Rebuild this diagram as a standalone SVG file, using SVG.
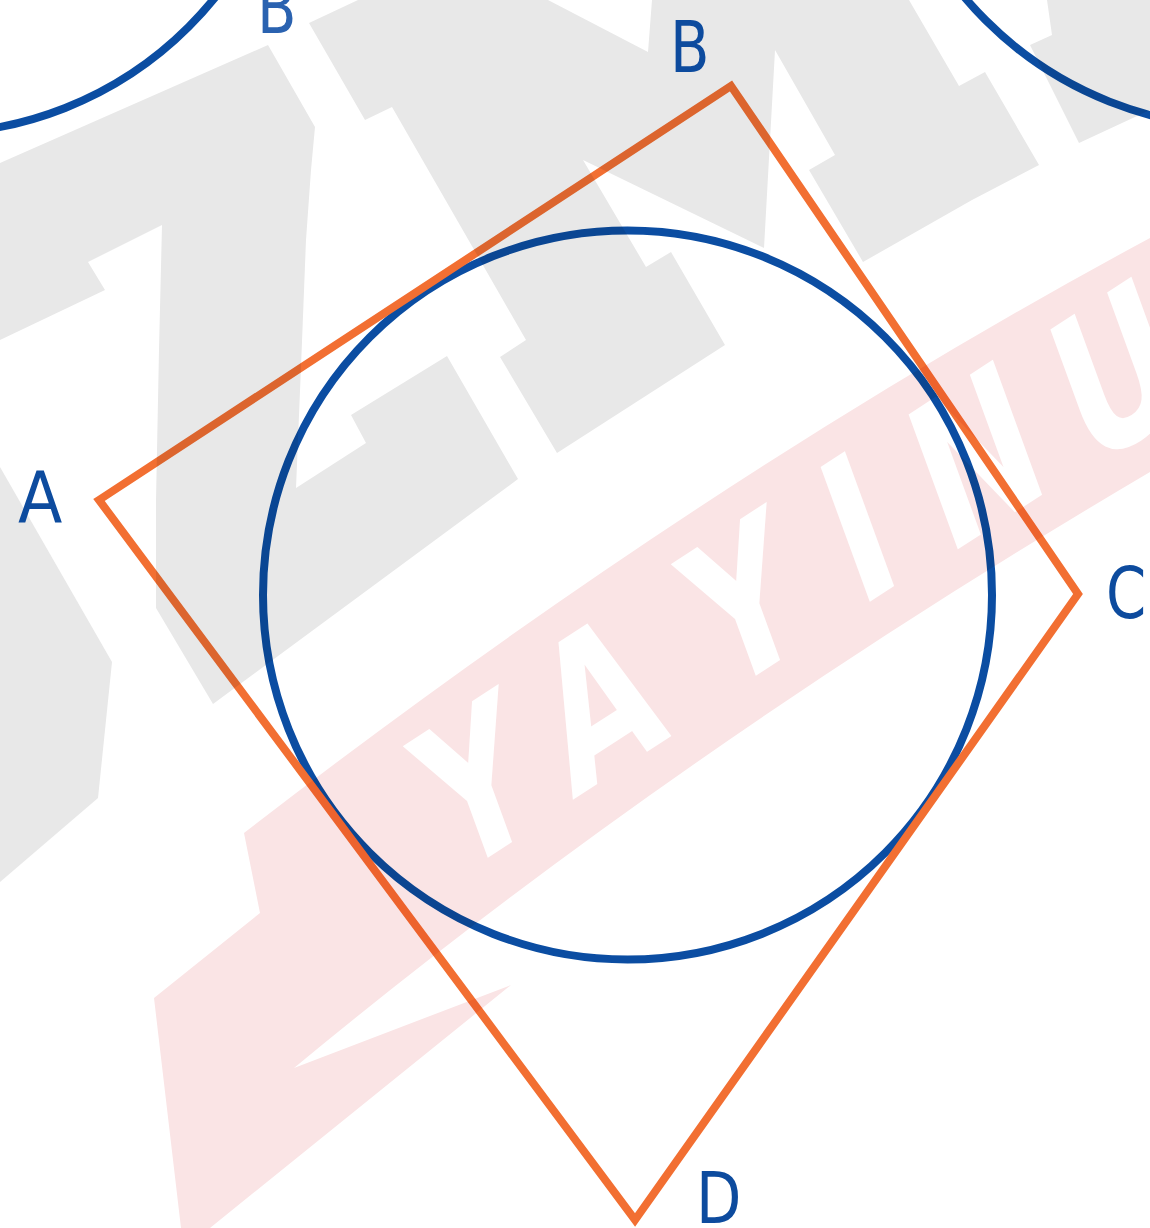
<svg xmlns="http://www.w3.org/2000/svg" width="1150" height="1228" viewBox="0 0 1150 1228">
<style>
.wm-gray{fill:#e8e8e8}
.wm-pink{fill:#fae4e5}
.wm-letter{fill:#ffffff;font-family:"DejaVu Sans","Liberation Sans",sans-serif;font-weight:bold;font-size:192px;text-anchor:middle}
.line-o{fill:none;stroke:#f26f32;stroke-width:8;stroke-linejoin:miter;stroke-miterlimit:10}
.line-b{fill:none;stroke:#0b4da2;stroke-width:8}
.lbl{fill:#0d4b9e;font-family:"DejaVu Sans","Liberation Sans",sans-serif;font-size:72px}
#figure{mix-blend-mode:multiply}
</style>
<rect width="1150" height="1228" fill="#ffffff"/>
<g id="watermark">
<polygon class="wm-gray" points="0,163 268,45 315,127 311,170 306,240 301,367 296,488 366,443 351,415 447,356 518,479 213,704 156,608 156,500 159,350 162,225 88,262 105,290 0,340"/>
<polygon class="wm-gray" points="0,467 112,662 98,798 0,882"/>
<polygon class="wm-gray" points="309,23 358,0 548,0 648,52 652,0 909,0 959,86 985,72 1039,165 972,200 863,262 809,170 835,155 775,50 764,248 583,160 646,267 671,252 725,345 557,453 500,357 526,340 392,107 365,120"/>
<polygon class="wm-gray" points="1047,0 1052,35 1030,45 1079,143 1150,110 1150,0"/>
<path class="wm-pink" d="M1150,238 Q700,480 244,833 L260,913 L154,998 L181,1228 L210,1228 L511,985 L294,1068 Q678,750 1150,472 Z"/>
<g class="wm-letter">
<text transform="translate(500,850) rotate(-33) skewX(-13) scale(0.8,1)">Y</text>
<text transform="translate(622,768) rotate(-33) skewX(-13) scale(0.8,1)">A</text>
<text transform="translate(768,668) rotate(-33) skewX(-13) scale(0.8,1)">Y</text>
<text transform="translate(882,594) rotate(-33) skewX(-13) scale(0.8,1)">I</text>
<text transform="translate(1000,522) rotate(-33) skewX(-13) scale(0.8,1)">N</text>
<text transform="translate(1140,438) rotate(-33) skewX(-13) scale(0.8,1)">U</text>
</g>
</g>
<g id="figure">
<g id="arc-top-left"><circle class="line-b" cx="-69" cy="-231" r="364.5"/></g>
<g id="arc-top-right"><circle class="line-b" cx="1243.6" cy="-237.3" r="364.5"/></g>
<g id="incircle"><circle class="line-b" cx="627.5" cy="595" r="364.5"/></g>
<g id="connectors">
<polygon class="line-o" points="99,500 731,86 1078,594 635,1220"/>
</g>
</g>
<g id="label-B-top"><text class="lbl" transform="translate(257,33) scale(0.8,1)" style="fill:#2a62b0">B</text></g>
<g id="label-A"><text class="lbl" transform="translate(18,522) scale(0.9,1)">A</text></g>
<g id="label-B"><text class="lbl" transform="translate(670,72) scale(0.8,1)">B</text></g>
<g id="label-C"><text class="lbl" transform="translate(1106,618) scale(0.8,1)">C</text></g>
<g id="label-D"><text class="lbl" transform="translate(696,1223) scale(0.82,1)">D</text></g>
</svg>
